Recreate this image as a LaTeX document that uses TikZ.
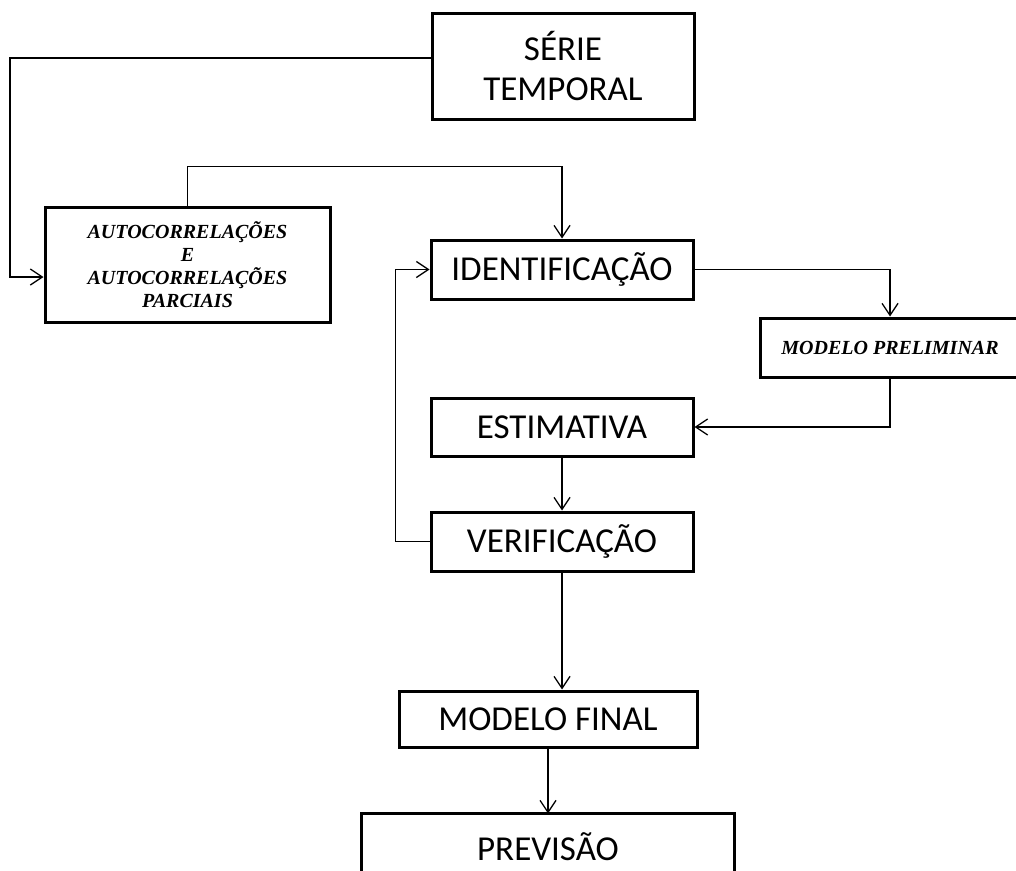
\documentclass[tikz,border=0pt]{standalone}
\usepackage{fontspec}
\setmainfont{Carlito}
\newfontfamily\lserif{Liberation Serif}
\usetikzlibrary{arrows.meta,calc}
\begin{document}
\begin{tikzpicture}[x=1pt,y=-1pt,
  box/.style={draw, line width=3pt, inner sep=0pt, align=center,
    font=\fontsize{35}{40}\selectfont},
  ibox/.style={draw, line width=3pt, inner sep=0pt, align=center,
    font=\lserif\bfseries\itshape\fontsize{20}{23}\selectfont},
  conn/.style={line width=1.3pt},
  arr/.style={conn, -{Straight Barb[length=12pt,width=16pt]}},
  border/.style={line width=3pt}
]
\useasboundingbox (0,0) rectangle (1016,870);

\node[box, minimum width=262pt, minimum height=106pt] (serie) at (563,66) {SÉRIE\\TEMPORAL};
\node[ibox, minimum width=285pt, minimum height=115pt] (auto) at (187.5,264.5)
  {AUTOCORRELAÇÕES\\E\\AUTOCORRELAÇÕES\\PARCIAIS};
\node[box, minimum width=262pt, minimum height=59pt] (ident) at (562,269.5) {IDENTIFICAÇÃO};
\node[ibox, minimum width=260pt, minimum height=59pt] (prelim) at (890,347.5) {MODELO PRELIMINAR};
\node[box, minimum width=262pt, minimum height=58pt] (estim) at (562,427) {ESTIMATIVA};
\node[box, minimum width=262pt, minimum height=59pt] (verif) at (562,541.5) {VERIFICAÇÃO};
\node[box, minimum width=298pt, minimum height=56pt] (final) at (548,719) {MODELO FINAL};
\node[box, draw=none, minimum width=370pt, minimum height=54pt, text height=37pt]
  (prev) at (548,842) {PREVISÃO};
\draw[border] ([yshift=-10pt]prev.south west) -- (prev.north west) -- (prev.north east) -- ([yshift=-10pt]prev.south east);

\coordinate (s1) at ($(serie.west)+(0,-8)$);
\coordinate (a1) at ($(auto.west)+(0,12.5)$);
\coordinate (bendL) at (10,58);
\draw[arr] (s1) -- (bendL) |- (a1);
\draw[arr] (auto.north) -- ++(0,-39) -| (ident.north);
\draw[arr] (ident.east) -| (prelim.north);
\draw[arr] (prelim.south) |- (estim.east);
\draw[arr] (estim.south) -- (verif.north);
\draw[arr] (verif.west) -- ++(-34,0) |- (ident.west);
\draw[arr] (verif.south) -- (verif.south |- final.north);
\draw[arr] (final.south) -- (prev.north);
\end{tikzpicture}
\end{document}
